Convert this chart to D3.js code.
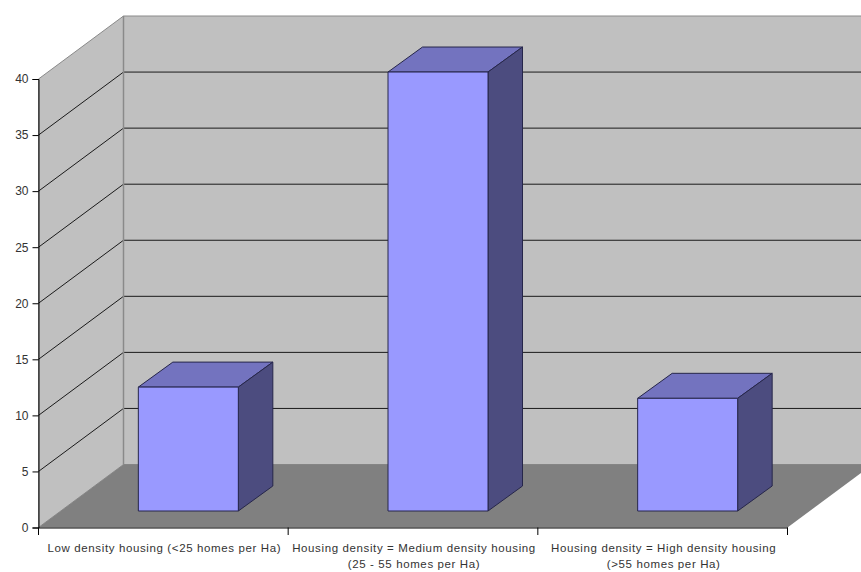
<!DOCTYPE html>
<html>
<head>
<meta charset="utf-8">
<style>
html, body { margin: 0; padding: 0; background: #fff; overflow: hidden; }
text { font-family: "Liberation Sans", Arial, sans-serif; fill: #333; }
</style>
<script src="https://cdn.jsdelivr.net/npm/d3@7"></script>
</head>
<body>
<svg id="chart" width="861" height="572"></svg>
<script>
const categories = [
    "Low density housing (<25 homes per Ha)",
    "Housing density = Medium density housing\n(25 - 55 homes per Ha)",
    "Housing density = High density housing\n(>55 homes per Ha)"
];
const values = [11.05, 39.15, 10.05];
const yTicks = [0, 5, 10, 15, 20, 25, 30, 35, 40];

const WALL = "#c0c0c0", FLOOR = "#808080", EDGE = "#8a8a8a";
const FRONT = "#9999ff", SIDE = "#4c4c7f", TOP = "#7373bf", BAR_LINE = "#26264a";

// 3d projection of the box
const DEPTH_X = 85, DEPTH_Y = 63;
const BAR_W = 100, BAR_DX = 34.5, BAR_DY = 25;
const BAR_SHIFT_X = 25, BAR_SHIFT_Y = 16.5;

const x = d3.scaleBand().domain(categories).range([38.5, 787.5]);
const y = d3.scaleLinear().domain([0, 40]).range([527.5, 79]);

const svg = d3.select("#chart");
const line = d3.line();
const poly = pts => line(pts) + "Z";

const x0 = x.range()[0], x1 = x.range()[1], right = 861;
const yb = y(0), yt = y(40);

// left wall, back wall, floor
svg.append("path")
    .attr("d", poly([[x0, yb], [x0, yt], [x0 + DEPTH_X, yt - DEPTH_Y], [x0 + DEPTH_X, yb - DEPTH_Y]]))
    .attr("fill", WALL).attr("stroke", EDGE);
svg.append("path")
    .attr("d", poly([[x0 + DEPTH_X, yt - DEPTH_Y], [right + 2, yt - DEPTH_Y], [right + 2, yb - DEPTH_Y], [x0 + DEPTH_X, yb - DEPTH_Y]]))
    .attr("fill", WALL).attr("stroke", EDGE);
svg.append("path")
    .attr("d", poly([[x0, yb], [x0 + DEPTH_X, yb - DEPTH_Y], [right + 2, yb - DEPTH_Y], [right + 2, yb - (right + 2 - x1) * DEPTH_Y / DEPTH_X], [x1, yb]]))
    .attr("fill", FLOOR);

// gridlines
const grid = yTicks.filter(d => d > 0 && d < 40);
svg.append("g").selectAll("path").data(grid).join("path")
    .attr("d", d => line([[x0, y(d)], [x0 + DEPTH_X, y(d) - DEPTH_Y], [right + 2, y(d) - DEPTH_Y]]))
    .attr("fill", "none")
    .attr("stroke", "#1a1a1a")
    .attr("stroke-width", 1);

// wall corner sits on top of the gridlines
svg.append("line")
    .attr("x1", x0 + DEPTH_X).attr("x2", x0 + DEPTH_X)
    .attr("y1", yt - DEPTH_Y).attr("y2", yb - DEPTH_Y)
    .attr("stroke", EDGE).attr("stroke-width", 1.5);

// bars
const bars = svg.append("g").selectAll("g").data(categories).join("g")
    .attr("stroke", BAR_LINE)
    .attr("stroke-width", 1)
    .attr("stroke-linejoin", "round");

const barLeft = d => x(d) + x.bandwidth() / 2 + BAR_SHIFT_X - BAR_W / 2;
const barTop = i => y(values[i]) - BAR_SHIFT_Y;
const barBase = yb - BAR_SHIFT_Y;

bars.append("path").attr("fill", TOP).attr("d", (d, i) => {
    const l = barLeft(d), t = barTop(i);
    return poly([[l, t], [l + BAR_DX, t - BAR_DY], [l + BAR_W + BAR_DX, t - BAR_DY], [l + BAR_W, t]]);
});
bars.append("path").attr("fill", SIDE).attr("d", (d, i) => {
    const r = barLeft(d) + BAR_W, t = barTop(i);
    return poly([[r, t], [r + BAR_DX, t - BAR_DY], [r + BAR_DX, barBase - BAR_DY], [r, barBase]]);
});
bars.append("path").attr("fill", FRONT).attr("d", (d, i) => {
    const l = barLeft(d), t = barTop(i);
    return poly([[l, t], [l + BAR_W, t], [l + BAR_W, barBase], [l, barBase]]);
});

// axes
const yAxis = svg.append("g")
    .attr("transform", `translate(${x0},0)`)
    .call(d3.axisLeft(y).tickValues(yTicks).tickSize(6).tickPadding(4));
yAxis.selectAll("text").style("font-size", "12px");

const xAxis = svg.append("g")
    .attr("transform", `translate(0,${yb})`)
    .call(d3.axisBottom(x).tickSize(0).tickFormat(""));

xAxis.selectAll(".tick line").remove();
xAxis.selectAll(".tick text").remove();
xAxis.selectAll("line.sep").data(d3.range(categories.length + 1)).join("line")
    .attr("class", "sep")
    .attr("x1", i => x0 + i * x.bandwidth())
    .attr("x2", i => x0 + i * x.bandwidth())
    .attr("y1", 0).attr("y2", 7.5)
    .attr("stroke", "#000");

xAxis.selectAll("text.cat").data(categories).join("text")
    .attr("class", "cat")
    .attr("text-anchor", "middle")
    .style("font-size", "11.5px")
    .style("letter-spacing", "0.62px")
    .each(function (d) {
        const cx = x(d) + x.bandwidth() / 2 + 1;
        d3.select(this).selectAll("tspan").data(d.split("\n")).join("tspan")
            .attr("x", cx)
            .attr("y", (s, i) => 24 + i * 16.5)
            .text(s => s);
    });
</script>
</body>
</html>
